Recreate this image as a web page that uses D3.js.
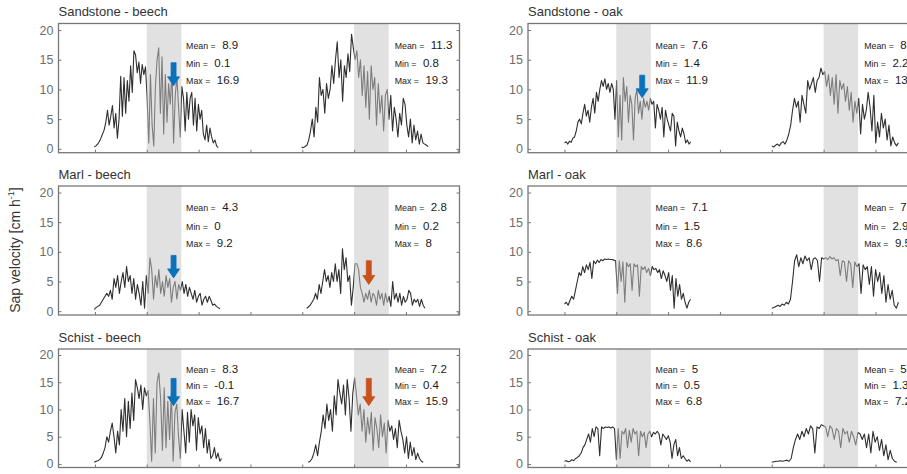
<!DOCTYPE html>
<html>
<head>
<meta charset="utf-8">
<script src="https://cdn.jsdelivr.net/npm/d3@7"></script>
<style>
  body { margin: 0; background: #fff; }
  svg { display: block; }
</style>
</head>
<body>
<div id="chart"></div>
<script>
// panel titles, left column then right column
const titles = ["Sandstone - beech", "Marl - beech", "Schist - beech",
                "Sandstone - oak", "Marl - oak", "Schist - oak"];

// first / last hour of each daily trace [day1, day2]
const windows = [
  [[5.92, 20.27], [29.92, 44.58]],
  [[5.92, 20.47], [30.5, 44.2]],
  [[5.92, 20.66], [30.7, 44.0]],
  [[6.0, 20.62], [30.0, 44.66]],
  [[6.0, 20.6], [30.0, 44.66]],
  [[6.0, 20.6], [30.0, 44.46]]
];

// sap velocity [cm h-1]
const sandstoneBeech1 = [0.3, 0.5, 0.8, 1.2, 1.8, 2.5, 3.2, 4.5, 6.5, 4.0, 5.5, 7.3, 3.5, 6.0, 1.8, 5.0, 12.2, 5.5, 12.0, 6.0, 11.5, 8.0, 14.0, 9.5, 16.5, 15.8, 12.8, 14.6, 11.0, 14.2, 12.5, 13.8, 8.5, 1.0, 12.5, 4.0, 0.5, 10.5, 15.0, 17.0, 6.0, 15.5, 2.5, 12.5, 4.5, 11.0, 7.5, 13.0, 1.0, 9.0, 12.0, 7.0, 2.0, 10.5, 8.5, 3.0, 9.5, 5.0, 8.5, 9.5, 4.0, 8.5, 3.0, 7.5, 5.0, 6.5, 2.5, 1.5, 4.0, 1.2, 3.5, 2.0, 1.0, 1.5, 0.5, 0.2];
const sandstoneBeech2 = [0.3, 0.2, 0.4, 0.6, 1.5, 3.0, 5.0, 2.0, 7.0, 4.5, 12.0, 9.0, 10.0, 6.0, 11.0, 8.5, 10.0, 14.0, 11.0, 15.0, 18.0, 12.0, 15.0, 8.0, 14.0, 12.0, 16.0, 13.0, 19.3, 17.0, 15.0, 16.5, 12.0, 15.0, 9.0, 14.0, 7.0, 13.0, 5.0, 14.0, 10.0, 12.0, 4.0, 11.0, 6.0, 9.0, 3.0, 9.0, 10.0, 5.0, 9.0, 3.0, 7.0, 5.0, 2.0, 6.0, 4.0, 8.5, 7.5, 4.0, 2.0, 5.0, 1.0, 4.0, 1.5, 3.0, 0.8, 2.5, 1.0, 0.8, 0.6, 0.4];
const marlBeech1 = [0.3, 0.6, 0.8, 1.0, 1.5, 2.0, 2.5, 3.0, 2.5, 3.5, 2.0, 5.5, 4.0, 6.0, 3.0, 5.0, 6.5, 4.0, 7.5, 5.0, 6.0, 3.0, 5.5, 2.0, 4.5, 3.0, 1.0, 5.0, 0.5, 6.0, 3.0, 9.0, 7.0, 2.0, 6.0, 4.0, 7.0, 3.0, 5.0, 2.5, 6.0, 4.0, 5.5, 1.5, 4.0, 5.0, 2.0, 4.5, 3.5, 5.0, 3.0, 4.5, 2.5, 4.0, 3.0, 2.0, 3.5, 1.5, 2.5, 3.0, 1.0, 2.0, 2.5, 1.5, 2.5, 1.8, 1.0, 1.2, 0.8, 0.6, 0.4];
const marlBeech2 = [0.5, 0.7, 1.0, 1.5, 2.0, 3.0, 2.0, 4.5, 3.0, 5.0, 7.0, 5.0, 6.0, 4.0, 6.5, 5.0, 8.0, 5.0, 7.0, 3.0, 10.5, 7.0, 9.0, 5.0, 6.0, 1.0, 4.0, 8.0, 8.0, 7.0, 4.0, 3.0, 1.5, 3.0, 2.0, 3.5, 1.5, 3.0, 2.5, 1.0, 3.5, 2.0, 3.0, 1.0, 3.0, 1.5, 2.5, 0.8, 5.0, 2.0, 3.0, 1.5, 3.0, 1.0, 2.5, 1.5, 2.0, 3.5, 3.0, 1.0, 2.0, 1.5, 2.0, 0.8, 2.0, 1.0, 0.5];
const schistBeech1 = [0.3, 0.5, 0.6, 0.8, 1.2, 2.0, 3.0, 5.0, 4.0, 6.0, 7.5, 5.0, 2.0, 6.0, 3.5, 10.0, 6.0, 12.0, 5.0, 11.5, 6.5, 13.0, 8.0, 15.5, 14.0, 12.0, 14.5, 10.0, 14.0, 12.5, 13.5, 8.0, 0.5, 12.0, 2.0, 15.0, 16.7, 12.0, 2.5, 14.0, 3.0, 11.5, 4.5, 13.0, 0.5, 9.5, 11.0, 5.0, 1.0, 10.0, 6.0, 2.0, 9.5, 4.0, 10.0, 7.0, 9.0, 2.5, 8.5, 5.5, 7.0, 3.0, 6.5, 2.0, 4.5, 1.0, 1.5, 3.0, 1.0, 2.0, 0.5, 1.0];
const schistBeech2 = [0.3, 0.5, 1.0, 2.0, 3.5, 1.5, 4.0, 6.0, 9.0, 6.5, 11.0, 8.0, 10.0, 6.0, 12.5, 9.0, 15.5, 13.0, 11.0, 14.5, 9.0, 15.5, 12.0, 6.0, 13.0, 15.8, 12.5, 9.0, 11.0, 6.0, 10.0, 4.0, 8.5, 5.5, 9.5, 2.5, 8.5, 6.5, 3.0, 9.0, 5.0, 7.5, 2.0, 8.0, 6.0, 7.0, 4.5, 6.5, 3.0, 8.0, 6.0, 4.5, 2.0, 5.0, 1.0, 4.0, 1.5, 3.0, 0.8, 2.0, 1.0, 0.5, 0.3];
const sandstoneOak1 = [1.0, 1.2, 0.8, 1.3, 1.1, 1.8, 2.0, 3.0, 4.5, 5.0, 4.2, 6.0, 7.5, 5.5, 6.5, 4.5, 7.0, 8.5, 6.0, 9.5, 8.0, 10.0, 11.5, 10.5, 11.8, 10.0, 11.0, 9.5, 11.0, 10.0, 5.0, 11.5, 2.0, 9.0, 1.5, 12.0, 8.0, 10.5, 4.5, 9.0, 7.5, 1.5, 8.5, 10.0, 6.0, 8.0, 5.0, 8.5, 7.0, 8.0, 6.5, 8.5, 7.5, 8.0, 3.5, 7.5, 6.5, 5.0, 7.0, 2.0, 6.5, 5.0, 4.0, 3.0, 6.0, 5.5, 0.5, 4.5, 3.0, 2.0, 3.5, 2.5, 1.0, 1.5, 0.8, 1.2];
const sandstoneOak2 = [0.5, 0.3, 0.6, 0.8, 0.5, 1.0, 1.2, 0.8, 1.5, 2.5, 4.0, 6.5, 8.5, 7.0, 8.0, 4.5, 9.0, 7.5, 6.0, 11.5, 10.0, 11.0, 12.0, 9.5, 11.5, 12.0, 13.6, 12.5, 13.0, 10.5, 12.5, 9.0, 12.0, 7.5, 12.5, 6.0, 11.5, 10.0, 11.0, 8.0, 10.5, 6.5, 9.5, 4.5, 8.0, 6.0, 8.5, 2.5, 7.5, 5.0, 6.5, 9.5, 7.0, 3.0, 9.0, 1.0, 4.5, 2.0, 6.0, 3.5, 5.0, 1.5, 4.0, 0.5, 2.0, 1.0, 0.5, 1.0];
const marlOak1 = [1.2, 1.5, 1.0, 1.8, 2.5, 2.0, 3.5, 5.0, 6.5, 6.0, 7.5, 6.5, 7.8, 7.0, 8.2, 5.5, 8.5, 8.0, 8.6, 8.2, 8.7, 8.5, 8.8, 8.7, 8.8, 8.7, 8.7, 8.6, 8.5, 3.0, 8.5, 5.0, 8.3, 1.5, 8.2, 7.5, 8.0, 3.5, 8.0, 7.5, 7.8, 2.5, 7.5, 7.0, 7.5, 6.5, 7.2, 6.0, 7.5, 7.0, 7.2, 6.5, 7.0, 5.5, 6.8, 6.0, 5.0, 6.5, 3.5, 6.0, 0.5, 5.5, 2.5, 4.5, 2.0, 3.0, 1.5, 0.5, 1.5, 2.0];
const marlOak2 = [0.5, 0.6, 0.8, 1.0, 0.8, 1.2, 1.0, 1.5, 1.2, 2.0, 5.0, 8.5, 9.5, 7.5, 9.0, 8.0, 9.3, 8.5, 9.0, 7.0, 8.8, 9.0, 8.5, 5.0, 9.0, 8.8, 9.0, 8.7, 9.2, 8.8, 9.0, 8.5, 8.7, 6.0, 8.5, 8.3, 5.0, 8.5, 8.0, 4.0, 8.3, 7.5, 8.0, 3.0, 7.8, 7.0, 7.5, 4.5, 7.5, 2.5, 7.0, 5.0, 6.5, 3.0, 6.0, 1.5, 4.5, 2.0, 3.5, 1.0, 0.5, 1.5];
const schistOak1 = [0.5, 0.6, 0.4, 0.5, 0.8, 0.6, 1.0, 1.2, 1.5, 2.0, 3.0, 3.5, 4.5, 5.5, 4.0, 6.5, 5.0, 6.8, 6.5, 1.5, 6.8, 6.5, 6.8, 6.7, 6.8, 6.6, 6.8, 6.5, 0.8, 6.5, 1.0, 6.0, 5.5, 6.5, 3.0, 6.2, 4.0, 6.5, 5.5, 6.0, 1.5, 6.0, 5.0, 5.8, 3.0, 5.5, 6.0, 5.0, 5.8, 5.5, 6.0, 5.5, 3.5, 5.5, 5.0, 4.5, 5.2, 4.0, 1.0, 3.5, 4.5, 1.5, 3.0, 1.0, 1.5, 1.0, 0.5, 0.8, 0.4];
const schistOak2 = [0.3, 0.4, 0.5, 0.5, 0.6, 0.5, 0.6, 0.7, 0.5, 1.0, 3.0, 4.5, 5.5, 4.5, 6.0, 5.0, 6.5, 5.5, 7.0, 6.5, 2.0, 6.8, 6.5, 7.2, 7.0, 6.8, 5.0, 7.0, 6.5, 4.5, 6.5, 6.0, 3.0, 6.5, 5.5, 6.0, 4.0, 6.0, 5.0, 3.5, 5.8, 5.5, 4.5, 5.5, 3.0, 5.5, 2.0, 6.0, 4.0, 5.0, 2.5, 4.5, 1.5, 3.5, 0.8, 2.5, 1.0, 0.5, 0.3];

const series = [
  [sandstoneBeech1, sandstoneBeech2],
  [marlBeech1, marlBeech2],
  [schistBeech1, schistBeech2],
  [sandstoneOak1, sandstoneOak2],
  [marlOak1, marlOak2],
  [schistOak1, schistOak2]
];

// Mean / Min / Max for [day1, day2]
const stats = [
  [["8.9", "0.1", "16.9"], ["11.3", "0.8", "19.3"]],
  [["4.3", "0", "9.2"], ["2.8", "0.2", "8"]],
  [["8.3", "-0.1", "16.7"], ["7.2", "0.4", "15.9"]],
  [["7.6", "1.4", "11.9"], ["8.5", "2.2", "13.6"]],
  [["7.1", "1.5", "8.6"], ["7.8", "2.9", "9.5"]],
  [["5", "0.5", "6.8"], ["5.3", "1.3", "7.2"]]
];

// arrows: panel, hour, from, to, colour
const arrows = [
  [0, 15.1, 14.5, 10.6, "#0a72ba"],
  [1, 15.1, 9.4, 5.6, "#0a72ba"],
  [1, 37.7, 8.5, 4.5, "#c9511c"],
  [2, 15.1, 15.7, 10.7, "#0a72ba"],
  [2, 37.7, 15.7, 10.7, "#c9511c"],
  [3, 15.0, 12.4, 8.6, "#0a72ba"]
];

const shading = [[12, 16], [36, 40]];
const xTicks = [6, 12, 18, 24, 30, 36, 42, 48];
const yTicks = [0, 5, 10, 15, 20];

const width = 907, height = 474;
const colX = [58.5, 528];
const frameW = 401;
const rows = [[23.5, 152.7], [186, 315], [349, 467.5]];
const font = "Arial, 'Liberation Sans', sans-serif";

const svg = d3.select("#chart").append("svg")
    .attr("width", width)
    .attr("height", height)
    .attr("font-family", font);

const x = d3.scaleLinear().domain([1.78, 48.2]).range([0, frameW]);

titles.forEach((title, p) => {
  const col = p < 3 ? 0 : 1;
  const [top, bottom] = rows[p % 3];
  const y = d3.scaleLinear().domain([-0.65, 21.1]).range([bottom - top, 0]);
  const h = bottom - top;

  const g = svg.append("g").attr("transform", `translate(${colX[col]},${top})`);

  g.append("text")
      .attr("x", 0)
      .attr("y", -7.5)
      .attr("font-size", 13)
      .attr("fill", "#333")
      .text(title);

  g.append("clipPath").attr("id", "clip" + p)
    .append("rect").attr("width", frameW).attr("height", h);

  const plot = g.append("g").attr("clip-path", `url(#clip${p})`);

  const line = d3.line()
      .x(d => x(d[0]))
      .y(d => y(d[1]));

  series[p].forEach((vals, k) => {
    const [t0, t1] = windows[p][k];
    const step = (t1 - t0) / (vals.length - 1);
    plot.append("path")
        .datum(vals.map((v, i) => [t0 + i * step, v]))
        .attr("fill", "none")
        .attr("stroke", "#2f2f2f")
        .attr("stroke-width", 1.1)
        .attr("stroke-linejoin", "round")
        .attr("d", line);
  });

  // grey band for 12:00-16:00, laid over the trace
  plot.selectAll("rect.band")
    .data(shading)
    .join("rect")
      .attr("class", "band")
      .attr("x", d => x(d[0]))
      .attr("width", d => x(d[1]) - x(d[0]))
      .attr("y", 0)
      .attr("height", h)
      .attr("fill", "#c6c6c6")
      .attr("opacity", 0.52);

  // axes with inward ticks
  g.append("g")
      .call(d3.axisLeft(y).tickValues(yTicks).tickSizeInner(-3).tickSizeOuter(0).tickPadding(5))
      .call(a => a.select(".domain").remove())
      .call(a => a.selectAll(".tick line").attr("stroke", "#777"))
      .call(a => a.selectAll("text").attr("fill", "#6d6d6d").attr("font-size", 12.5).attr("font-family", font));

  g.append("g")
      .attr("transform", `translate(${frameW},0)`)
      .call(d3.axisRight(y).tickValues(yTicks).tickSizeInner(-3).tickSizeOuter(0).tickFormat(""))
      .call(a => a.select(".domain").remove())
      .call(a => a.selectAll(".tick line").attr("stroke", "#777"));

  g.append("g")
      .attr("transform", `translate(0,${h})`)
      .call(d3.axisBottom(x).tickValues(xTicks).tickSizeInner(-3).tickSizeOuter(0).tickFormat(""))
      .call(a => a.select(".domain").remove())
      .call(a => a.selectAll(".tick line").attr("stroke", "#777"));

  g.append("rect")
      .attr("width", frameW)
      .attr("height", h)
      .attr("fill", "none")
      .attr("stroke", "#777")
      .attr("stroke-width", 1.3);

  // statistics text
  const labels = ["Mean =", "Min =", "Max ="];
  const levels = [17.8, 14.7, 11.8];
  [16.55, 40.7].forEach((hx, k) => {
    labels.forEach((lab, j) => {
      const t = g.append("text")
          .attr("x", x(hx))
          .attr("y", y(levels[j]))
          .attr("dy", "0.35em")
          .attr("fill", "#1a1a1a");
      t.append("tspan").attr("font-size", 8.8).text(lab);
      t.append("tspan").attr("font-size", 11.5).attr("dx", 6.5).text(stats[p][k][j]);
    });
  });

  // arrows
  arrows.filter(a => a[0] === p).forEach(([, hx, from, to, colour]) => {
    const cx = x(hx), y0 = y(from), y1 = y(to);
    const sw = 2.5, hw = 6, hl = 9;
    const path = d3.path();
    path.moveTo(cx - sw, y0);
    path.lineTo(cx + sw, y0);
    path.lineTo(cx + sw, y1 - hl);
    path.lineTo(cx + hw, y1 - hl);
    path.lineTo(cx, y1);
    path.lineTo(cx - hw, y1 - hl);
    path.lineTo(cx - sw, y1 - hl);
    path.closePath();
    g.append("path")
        .attr("d", path.toString())
        .attr("fill", colour)
        .attr("stroke", colour)
        .attr("stroke-width", 0.8)
        .attr("stroke-linejoin", "round");
  });
});

svg.append("text")
    .attr("transform", "translate(20,250) rotate(-90)")
    .attr("text-anchor", "middle")
    .attr("font-size", 14)
    .attr("fill", "#333")
    .text("Sap velocity [cm h")
  .append("tspan")
    .attr("font-size", 9)
    .attr("dy", -6)
    .text("-1")
  .select(function() { return this.parentNode; })
  .append("tspan")
    .attr("dy", 6)
    .text("]");
</script>
</body>
</html>
